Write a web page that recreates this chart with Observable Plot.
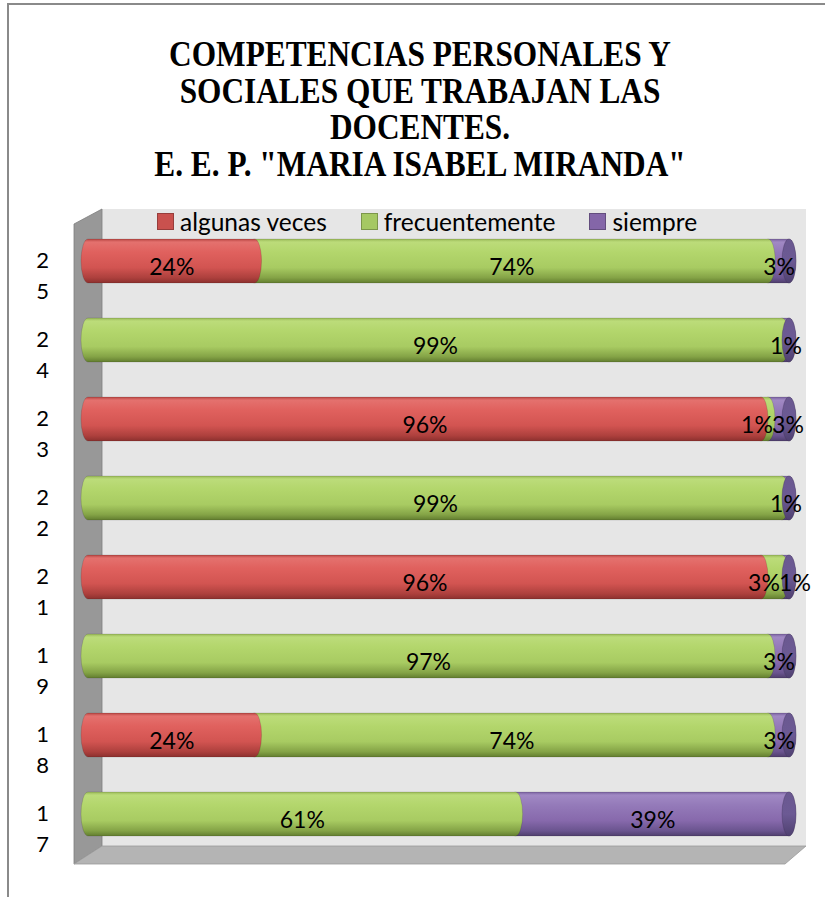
<!DOCTYPE html>
<html><head><meta charset="utf-8">
<script src="https://cdn.jsdelivr.net/npm/d3@7"></script>
<script src="https://cdn.jsdelivr.net/npm/@observablehq/plot@0.6"></script>
<style>
body{margin:0;background:#fff;}
#wrap{position:relative;width:825px;height:897px;overflow:hidden;background:#fff;}
#border{position:absolute;left:7px;top:3px;width:900px;height:1000px;border-top:2px solid #8a8a8a;border-left:2px solid #8a8a8a;}
#title{position:absolute;left:0;top:36px;width:840px;text-align:center;font-family:"Liberation Serif",serif;font-weight:bold;font-size:36px;line-height:36.7px;color:#000;transform:scaleX(0.87);transform-origin:420px 0;white-space:nowrap;}
#chart{position:absolute;left:0;top:195px;}
#legend{position:absolute;left:157px;top:207px;height:28px;display:flex;align-items:center;font-family:Lato,sans-serif;font-size:24.5px;color:#000;z-index:2;}
#legend .sw{display:inline-block;width:15px;height:15px;margin-right:6px;}
#legend .it{display:flex;align-items:center;margin-right:34px;}
</style></head>
<body><div id="wrap"><div id="border"></div>
<div id="title">COMPETENCIAS PERSONALES Y<br>SOCIALES QUE TRABAJAN LAS<br>DOCENTES.<br>E. E. P. "MARIA ISABEL MIRANDA"</div>
<div id="chart"></div>
<div id="legend"></div>
</div>
<script>
const categories = ["25","24","23","22","21","19","18","17"];
const series = ["algunas veces","frecuentemente","siempre"];
const algunasVeces   = [24, 0, 96, 0, 96, 0, 24, 0];
const frecuentemente = [74, 99, 1, 99, 3, 97, 74, 61];
const siempre        = [3, 1, 3, 1, 1, 3, 3, 39];
const seriesValues = [algunasVeces, frecuentemente, siempre];
const fills = ["url(#gRed)", "url(#gGreen)", "url(#gPurple)"];
const swatch = ["#c9514e", "#a5c863", "#8466a8"];

// rows drawn right-to-left so left segments overlap the next one's left end
const rows = [];
categories.forEach((c, i) => {
  const crowded = frecuentemente[i] < 5 && siempre[i] < 5; // two thin segments side by side
  for (let j = series.length - 1; j >= 0; j--) {
    const v = seriesValues[j][i];
    if (v > 0) rows.push({cat: c, series: series[j], value: v, crowded});
  }
});
const stackOpts = {x: "value", y: "cat", z: "series", order: series, offset: "normalize"};
const textStyle = {text: d => d.value + "%", dy: 6, fill: "#000", fontFamily: "Lato", fontSize: 23};
// stack over all rows first, then pick which labels each mark shows
const labels = (test, dx) => Plot.filter(test, Plot.stackX({...stackOpts, ...textStyle, dx}));

const chart = Plot.plot({
  width: 825, height: 702,
  marginLeft: 88, marginRight: 36, marginTop: 6, marginBottom: 23,
  x: {domain: [0, 1], axis: null},
  y: {domain: categories, axis: null, paddingInner: 0.4475, paddingOuter: 0.4475},
  color: {domain: series, range: fills},
  style: {fontFamily: "Lato", fontSize: "23px", background: "transparent", overflow: "visible"},
  marks: [
    Plot.barX(rows, Plot.stackX({x: "value", y: "cat", fill: "series", order: series, offset: "normalize",
      insetLeft: -7, insetRight: -7, rx: 7, ry: 22, stroke: "#000", strokeOpacity: 0.12})),
    Plot.barX(categories, {x1: () => 1, x2: () => 1, y: d => d, insetLeft: -7, insetRight: -7, rx: 7, ry: 22,
      fill: "url(#gCap)", stroke: "#3f3158", strokeOpacity: 0.35}),
    Plot.text(rows, labels(d => !d.crowded || d.series === "algunas veces", 0)),
    Plot.text(rows, labels(d => d.crowded && d.series === "frecuentemente", -8)),
    Plot.text(rows, labels(d => d.crowded && d.series === "siempre", 9)),
    Plot.text(categories, {y: d => d, frameAnchor: "left", dx: -46, text: d => d.split("").join("\n"),
      textAnchor: "middle", lineAnchor: "middle", lineHeight: 1.4, dy: 12,
      fontFamily: "Lato", fontSize: 22, fill: "#000"})
  ]
});
document.getElementById("chart").appendChild(chart);

const svg = d3.select(chart);
const defs = svg.insert("defs", ":first-child");
function grad(id, stops) {
  const g = defs.append("linearGradient").attr("id", id).attr("x1", 0).attr("y1", 0).attr("x2", 0).attr("y2", 1);
  stops.forEach(([o, c]) => g.append("stop").attr("offset", o).attr("stop-color", c));
}
grad("gRed", [[0, "#b94643"], [0.07, "#e4716e"], [0.3, "#e0615e"], [0.65, "#d25451"], [0.88, "#ad403d"], [1, "#8c302e"]]);
grad("gGreen", [[0, "#9aba58"], [0.07, "#bcdc7a"], [0.3, "#b3d66c"], [0.65, "#a8cb62"], [0.88, "#84a346"], [1, "#627d2f"]]);
grad("gPurple", [[0, "#7a62a0"], [0.07, "#a189c4"], [0.3, "#947ab9"], [0.65, "#8769ac"], [0.88, "#6a548f"], [1, "#4f3e6d"]]);
grad("gCap", [[0, "#6a5890"], [0.5, "#6c5a94"], [1, "#4f4070"]]);

// 3D walls positioned from the plot's own scales
const sx = chart.scale("x"), sy = chart.scale("y");
const X = v => sx.apply ? sx.apply(v) : 88 + v * (825 - 88 - 36);
const Y = v => sy.apply ? sy.apply(v) : 0;
const bw = sy.bandwidth || 44;
const x0 = X(0), x1 = X(1);
const yTopBand = Y(categories[0]), yBotBand = Y(categories[categories.length - 1]) + bw;
const wallTop = yTopBand - 30, wallBot = yBotBand + 10, floorBot = wallBot + 18;
const walls = svg.insert("g", "g");
walls.append("rect").attr("x", x0 + 14).attr("y", wallTop).attr("width", (x1 + 17) - (x0 + 14)).attr("height", wallBot - wallTop).attr("fill", "#e6e6e6");
walls.append("polygon").attr("points", [[x0 - 14, wallTop + 15], [x0 + 14, wallTop], [x0 + 14, wallBot], [x0 - 14, floorBot]].join(" ")).attr("fill", "#989898").attr("stroke", "#7d7d7d").attr("stroke-width", 0.8);
walls.append("polygon").attr("points", [[x0 + 14, wallBot], [x1 + 17, wallBot], [x1 - 4, floorBot], [x0 - 14, floorBot]].join(" ")).attr("fill", "#b4b4b4").attr("stroke", "#9a9a9a").attr("stroke-width", 0.8);

// legend
const lg = d3.select("#legend");
series.forEach((s, i) => {
  const it = lg.append("span").attr("class", "it");
  it.append("span").attr("class", "sw").style("background", swatch[i]).style("border", "1px solid " + d3.color(swatch[i]).darker(0.8));
  it.append("span").text(s);
});
</script>
</body></html>
